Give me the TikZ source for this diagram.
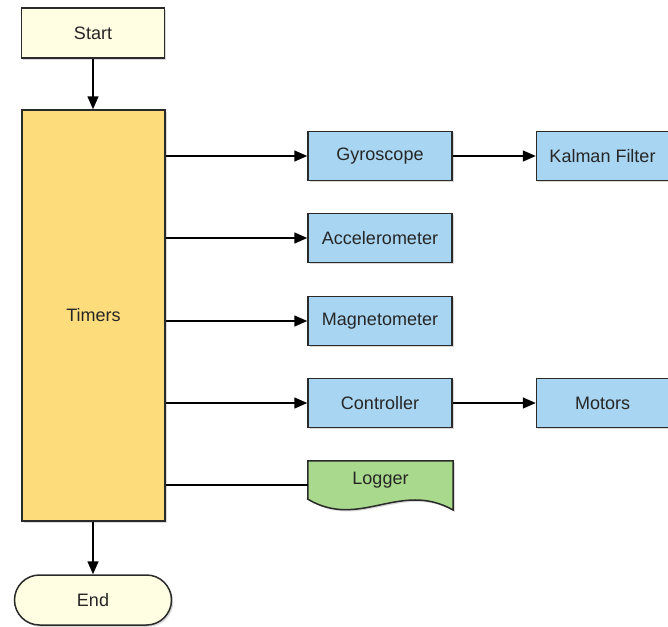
\documentclass[tikz,border=0pt]{standalone}
\usepackage{fontspec}
\setmainfont{Liberation Sans}
\usepackage{xcolor}
\definecolor{startfill}{HTML}{FFFDE2}
\definecolor{timerfill}{HTML}{FDDC7C}
\definecolor{sensorfill}{HTML}{A8D5F2}
\definecolor{logfill}{HTML}{A9D98C}
\definecolor{edgegray}{HTML}{2A2A2A}
\definecolor{textgray}{HTML}{262626}
\usepackage{tikz}
\usetikzlibrary{
  arrows.meta,
  positioning,
  shadows
}

\begin{document}
\begin{tikzpicture}[
  x=1pt, y=-1pt,
  shade/.style={drop shadow={shadow xshift=1.8pt, shadow yshift=-1.8pt, opacity=0.3}},
  box/.style={rectangle, draw=edgegray, line width=1.5pt, inner sep=0pt, text=textgray, font=\fontsize{18}{21}\selectfont, shade},
  terminal/.style={box, fill=startfill, minimum width=143pt, minimum height=50pt},
  timer/.style={box, fill=timerfill, minimum width=143pt, minimum height=411pt},
  sensor/.style={box, fill=sensorfill, minimum width=144pt, minimum height=49pt},
  flow/.style={-{Triangle[length=13pt, width=11pt]}, line width=1.5pt},
  link/.style={line width=1.5pt}
]
  \useasboundingbox (0,0) rectangle (668,626);

  \node[terminal] (start) at (93,33) {Start};
  \node[timer] (timers) at (93.5,315.5) {Timers};
  \node[terminal, rounded corners=25pt, minimum width=157pt] (end) at (93,600) {End};

  \node[sensor] (gyro) at (380,156) {Gyroscope};
  \node[sensor] (accel) at (380,238) {Accelerometer};
  \node[sensor] (magneto) at (380,321) {Magnetometer};
  \node[sensor] (ctrl) at (380,403) {Controller};
  \node[sensor, minimum width=132pt, right=83pt of gyro] (kalman) {Kalman Filter};
  \node[sensor, minimum width=132pt, right=83pt of ctrl] (motors) {Motors};

  \node[text=textgray, font=\fontsize{18}{21}\selectfont, inner sep=0pt, minimum width=145pt, minimum height=38pt] (logger) at (380.5,480) {Logger};
  \draw[draw=edgegray, line width=1.5pt, fill=logfill, shade] (logger.north west) -- (logger.north east) -- (453,510)
    .. controls (400,480) and (360,530) .. (logger.south west) -- cycle;
  \node[text=textgray, font=\fontsize{18}{21}\selectfont] at (logger) {Logger};
  \coordinate (logjoin) at ([yshift=-5pt]logger.west);

  \draw[flow] (start) -- (start |- timers.north);
  \draw[flow] (start |- timers.south) -- (end);
  \foreach \n in {gyro,accel,magneto,ctrl} {
    \draw[flow] (timers.east |- \n) -- (\n);
  }
  \draw[flow] (gyro) -- (kalman);
  \draw[flow] (ctrl) -- (motors);
  \draw[link] (timers.east |- logjoin) -- (logjoin);
\end{tikzpicture}
\end{document}
